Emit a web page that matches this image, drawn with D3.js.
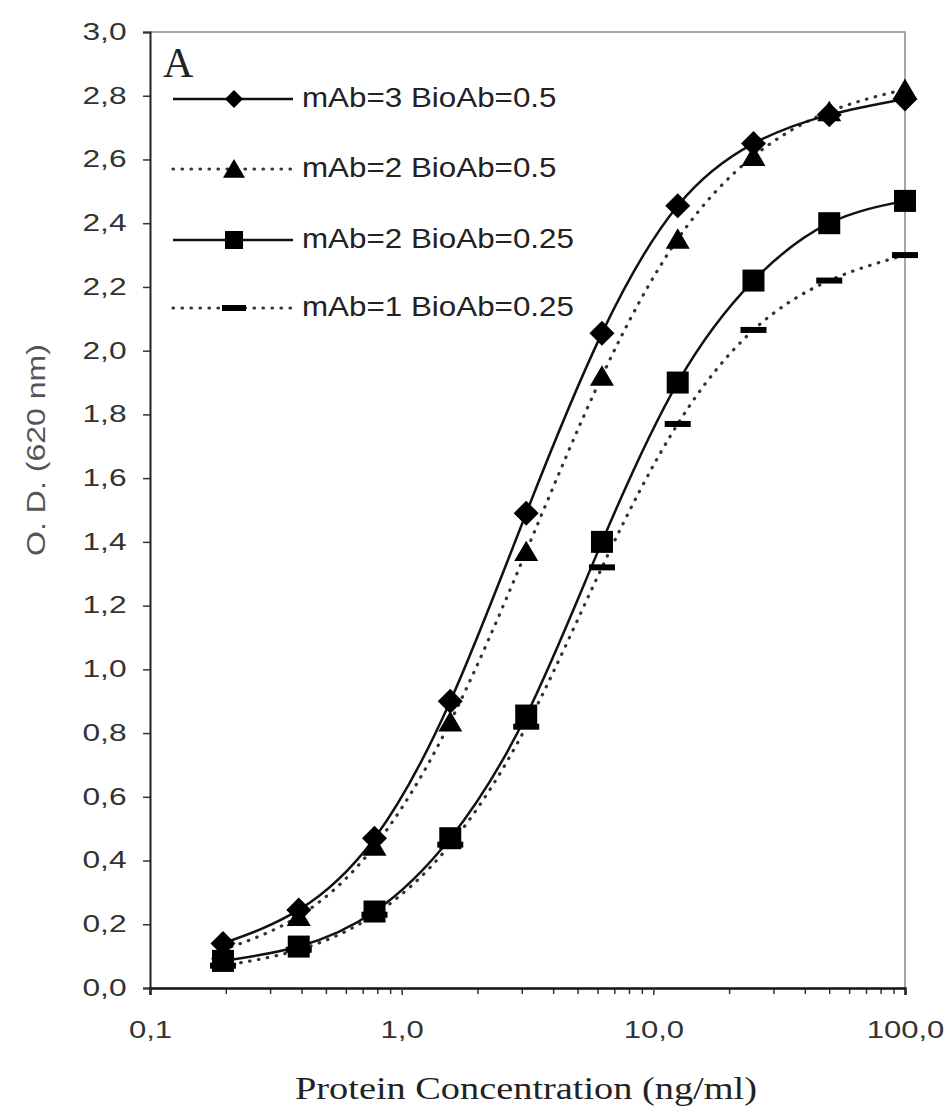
<!DOCTYPE html>
<html>
<head>
<meta charset="utf-8">
<script src="https://cdn.jsdelivr.net/npm/d3@7"></script>
<style>
  body { margin: 0; background: #fff; }
  svg { display: block; }
</style>
</head>
<body>
<svg id="chart" width="951" height="1113"></svg>
<script>
// two-fold dilution series
const conc = [0.195, 0.39, 0.78, 1.56, 3.125, 6.25, 12.5, 25, 50, 100]
const mAb3Bio05 = [0.14, 0.245, 0.47, 0.9, 1.49, 2.055, 2.455, 2.65, 2.74, 2.79]
const mAb2Bio05 = [0.12, 0.225, 0.445, 0.835, 1.37, 1.92, 2.35, 2.61, 2.75, 2.82]
const mAb2Bio025 = [0.085, 0.13, 0.24, 0.47, 0.855, 1.40, 1.90, 2.22, 2.40, 2.47]
const mAb1Bio025 = [0.07, 0.12, 0.23, 0.45, 0.82, 1.32, 1.77, 2.065, 2.22, 2.30]
const seriesNames = ["mAb=3 BioAb=0.5", "mAb=2 BioAb=0.5", "mAb=2 BioAb=0.25", "mAb=1 BioAb=0.25"]
const yTicks = [0, 0.2, 0.4, 0.6, 0.8, 1.0, 1.2, 1.4, 1.6, 1.8, 2.0, 2.2, 2.4, 2.6, 2.8, 3.0]
const xMajor = [0.1, 1, 10, 100]

const svg = d3.select("#chart")
const m = { left: 150, right: 905, top: 32, bottom: 988 }

const x = d3.scaleLog().domain([0.1, 100]).range([m.left, m.right])
const y = d3.scaleLinear().domain([0, 3]).range([m.bottom, m.top])
const comma = d => d3.format(".1f")(d).replace(".", ",")

// frame (top / right, thin grey)
svg.append("path")
  .attr("d", `M${m.left},${m.top}H${m.right}V${m.bottom}`)
  .attr("fill", "none").attr("stroke", "#888").attr("stroke-width", 1.5)

// y axis
const yAxis = svg.append("g")
  .attr("transform", `translate(${m.left},0)`)
  .call(d3.axisLeft(y).tickValues(yTicks).tickSize(7).tickPadding(10).tickFormat(comma))
yAxis.select(".domain").attr("stroke", "#222").attr("stroke-width", 2)
yAxis.selectAll(".tick line").attr("stroke", "#333").attr("stroke-width", 1.5)
yAxis.selectAll("text")
  .attr("font-family", "Liberation Sans, Arial, sans-serif")
  .attr("font-size", 23).attr("fill", "#333")
  .attr("transform", "scale(1.38,1)")

// x axis minor ticks
const minors = []
xMajor.slice(0, 3).forEach(d => { for (let k = 2; k <= 9; k++) minors.push(d * k) })
const xMinor = svg.append("g")
  .attr("transform", `translate(0,${m.bottom})`)
  .call(d3.axisBottom(x).tickValues(minors).tickSize(6).tickFormat(""))
xMinor.select(".domain").remove()
xMinor.selectAll(".tick line").attr("stroke", "#333").attr("stroke-width", 1.5)

// x axis majors + labels
const xAxis = svg.append("g")
  .attr("transform", `translate(0,${m.bottom})`)
  .call(d3.axisBottom(x).tickValues(xMajor).tickSize(7).tickPadding(27).tickFormat(comma))
xAxis.select(".domain").attr("stroke", "#111").attr("stroke-width", 2.5)
xAxis.selectAll(".tick line").attr("stroke", "#333").attr("stroke-width", 1.5)
xAxis.selectAll("text")
  .attr("font-family", "Liberation Sans, Arial, sans-serif")
  .attr("font-size", 23).attr("fill", "#333")
  .attr("transform", "scale(1.35,1)")

// axis titles
svg.append("text")
  .attr("x", 526).attr("y", 1099)
  .attr("text-anchor", "middle")
  .attr("font-family", "Liberation Serif, Times New Roman, serif")
  .attr("font-size", 32).attr("fill", "#222")
  .attr("textLength", 462).attr("lengthAdjust", "spacingAndGlyphs")
  .text("Protein Concentration (ng/ml)")

svg.append("text")
  .attr("transform", "translate(45,450) rotate(-90)")
  .attr("text-anchor", "middle")
  .attr("font-family", "Liberation Sans, Arial, sans-serif")
  .attr("font-size", 25).attr("fill", "#555")
  .attr("textLength", 212).attr("lengthAdjust", "spacingAndGlyphs")
  .text("O. D. (620 nm)")

svg.append("text")
  .attr("x", 163).attr("y", 77)
  .attr("font-family", "Liberation Serif, Times New Roman, serif")
  .attr("font-size", 42).attr("fill", "#222")
  .text("A")

// markers
function marker(g, type, s) {
  if (type == "diamond")
    g.append("path").attr("d", `M0,${-s / 2}L${s / 2},0L0,${s / 2}L${-s / 2},0Z`)
  else if (type == "triangle")
    g.append("path").attr("d", `M0,${-s * 0.45}L${s / 2},${s * 0.4}L${-s / 2},${s * 0.4}Z`)
  else if (type == "square")
    g.append("rect").attr("x", -s / 2).attr("y", -s / 2).attr("width", s).attr("height", s)
  else
    g.append("rect").attr("x", -s / 2).attr("y", -3).attr("width", s).attr("height", 6)
}

const series = [
  { name: seriesNames[3], values: mAb1Bio025, dotted: true, type: "dash", size: 26 },
  { name: seriesNames[2], values: mAb2Bio025, dotted: false, type: "square", size: 22 },
  { name: seriesNames[1], values: mAb2Bio05, dotted: true, type: "triangle", size: 24 },
  { name: seriesNames[0], values: mAb3Bio05, dotted: false, type: "diamond", size: 25 }
]

const line = d3.line()
  .x(d => x(d[0])).y(d => y(d[1]))
  .curve(d3.curveNatural)

function styleLine(p, dotted) {
  p.attr("fill", "none")
  if (dotted)
    p.attr("stroke", "#333").attr("stroke-width", 3.2)
      .attr("stroke-linecap", "round").attr("stroke-dasharray", "0.5 8.5")
  else
    p.attr("stroke", "#111").attr("stroke-width", 2.5)
}

const plot = svg.append("g")
series.forEach(s => {
  const pts = conc.map((c, i) => [c, s.values[i]])
  plot.append("path").datum(pts).attr("d", line).call(styleLine, s.dotted)
})
series.forEach(s => {
  plot.append("g").selectAll("g")
    .data(conc.map((c, i) => [c, s.values[i]]))
    .enter().append("g")
    .attr("transform", d => `translate(${x(d[0])},${y(d[1])})`)
    .attr("fill", "#000")
    .each(function () { marker(d3.select(this), s.type, s.size) })
})

// legend
const legendRows = [
  { type: "diamond", dotted: false, size: 18, y: 99 },
  { type: "triangle", dotted: true, size: 22, y: 169 },
  { type: "square", dotted: false, size: 18, y: 240 },
  { type: "dash", dotted: true, size: 24, y: 308 }
]
const legend = svg.append("g").attr("id", "legend")
legendRows.forEach((r, i) => {
  const g = legend.append("g").attr("transform", `translate(0,${r.y})`)
  g.append("path").attr("d", "M173,0H293").call(styleLine, r.dotted)
  const mk = g.append("g").attr("transform", "translate(234,0)").attr("fill", "#000")
  marker(mk, r.type, r.size)
  g.append("text")
    .attr("transform", "translate(302,8) scale(1.12,1)")
    .attr("font-family", "Liberation Sans, Arial, sans-serif")
    .attr("font-size", 28).attr("fill", "#222")
    .text(seriesNames[i])
})
</script>
</body>
</html>
